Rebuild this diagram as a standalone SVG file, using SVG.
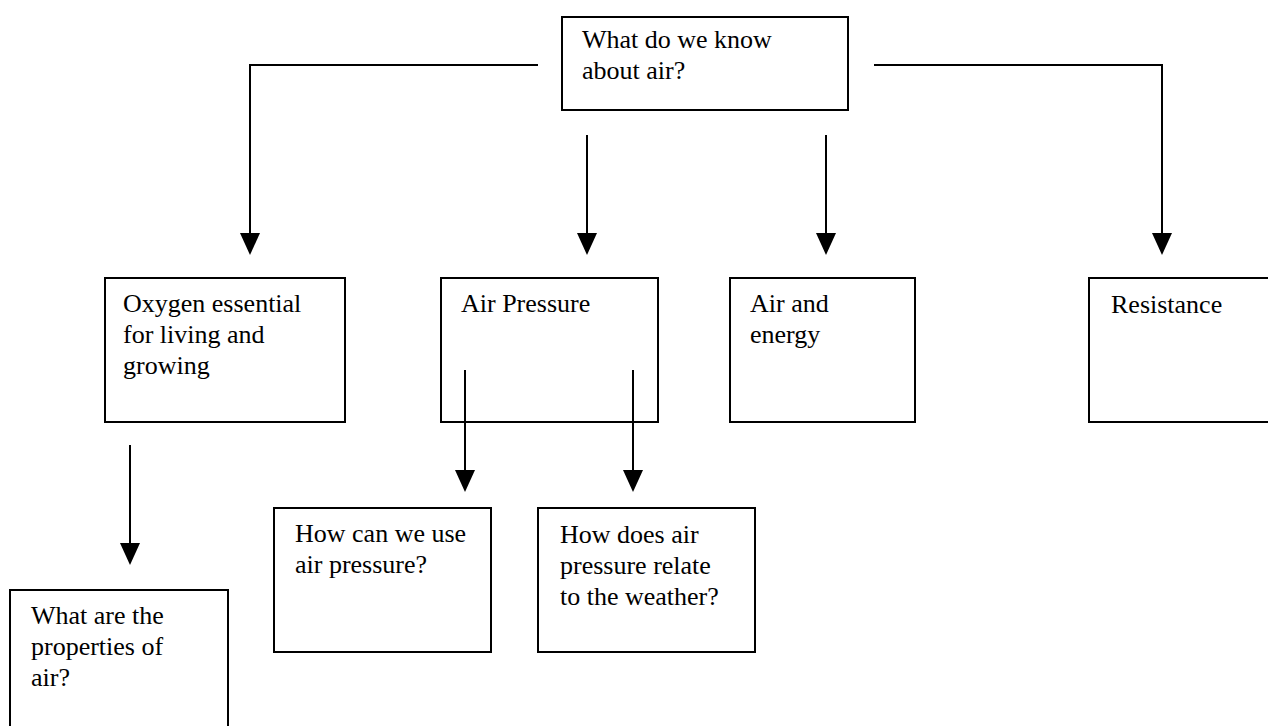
<svg xmlns="http://www.w3.org/2000/svg" width="1268" height="726" viewBox="0 0 1268 726">
<style>
.box{fill:#fff;stroke:#000;stroke-width:2}
.ln{fill:none;stroke:#000;stroke-width:2}
.ah{fill:#000}
text{font-family:"Liberation Serif","Times New Roman",serif;font-size:26px;fill:#000}
</style>
<rect width="1268" height="726" fill="#fff"/>
<g id="connectors">
<path class="ln" d="M538,65 H250 V233"/>
<polygon class="ah" points="240,233 260,233 250,255"/>
<path class="ln" d="M874,65 H1162 V233"/>
<polygon class="ah" points="1152,233 1172,233 1162,255"/>
<line class="ln" x1="587" y1="135" x2="587" y2="233"/>
<polygon class="ah" points="577,233 597,233 587,255"/>
<line class="ln" x1="826" y1="135" x2="826" y2="233"/>
<polygon class="ah" points="816,233 836,233 826,255"/>
<line class="ln" x1="130" y1="445" x2="130" y2="543"/>
<polygon class="ah" points="120,543 140,543 130,565"/>
</g>
<g id="n-top"><rect class="box" x="562" y="17" width="286" height="93"/><text x="582" y="48">What do we know</text><text x="582" y="79">about air?</text></g>
<g id="n-oxygen"><rect class="box" x="105" y="278" width="240" height="144"/><text x="123" y="312">Oxygen essential</text><text x="123" y="343">for living and</text><text x="123" y="374">growing</text></g>
<g id="n-pressure"><rect class="box" x="441" y="278" width="217" height="144"/><text x="461" y="312">Air Pressure</text></g>
<g id="n-energy"><rect class="box" x="730" y="278" width="185" height="144"/><text x="750" y="312">Air and</text><text x="750" y="343">energy</text></g>
<g id="n-resistance"><path class="ln" d="M1270,278 H1089 V422 H1270"/><text x="1111" y="313">Resistance</text></g>
<g id="pressure-arrows">
<line class="ln" x1="465" y1="370" x2="465" y2="470"/>
<polygon class="ah" points="455,470 475,470 465,492"/>
<line class="ln" x1="633" y1="370" x2="633" y2="470"/>
<polygon class="ah" points="623,470 643,470 633,492"/>
</g>
<g id="n-use"><rect class="box" x="274" y="508" width="217" height="144"/><text x="295" y="542">How can we use</text><text x="295" y="573">air pressure?</text></g>
<g id="n-weather"><rect class="box" x="538" y="508" width="217" height="144"/><text x="560" y="543">How does air</text><text x="560" y="574">pressure relate</text><text x="560" y="605">to the weather?</text></g>
<g id="n-properties"><path class="ln" d="M10,728 V590 H228 V728"/><text x="31" y="624">What are the</text><text x="31" y="655">properties of</text><text x="31" y="686">air?</text></g>
</svg>
